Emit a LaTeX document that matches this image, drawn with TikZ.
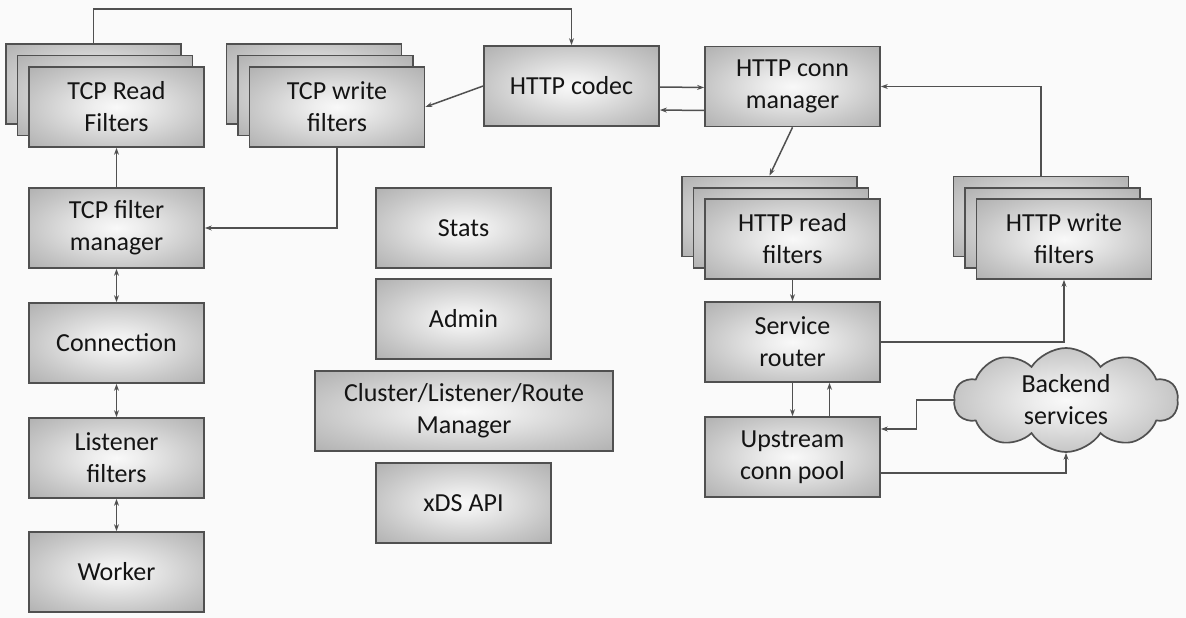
\documentclass[tikz,border=0pt]{standalone}
\usepackage{fontspec}
\setmainfont{Carlito}
\usetikzlibrary{arrows.meta,shapes.symbols}
\pgfdeclareradialshading{boxshade}{\pgfpoint{0bp}{0bp}}{color(0bp)=(gray!5); color(7bp)=(gray!14); color(25bp)=(gray!45); color(36bp)=(gray!62); color(50bp)=(gray!62)}
\definecolor{edgec}{HTML}{505050}
\definecolor{bgc}{HTML}{FAFAFA}
\definecolor{txtc}{HTML}{141414}
\tikzset{
  box/.style={draw=edgec, line width=1.7pt, shading=boxshade, minimum width=175pt, minimum height=80pt,
    inner sep=0pt, align=center, text=txtc, font=\fontsize{26pt}{32pt}\selectfont},
  card/.style={box},
  arr/.style={draw=edgec, line width=1.5pt, -{Stealth[length=7pt,width=5pt]}},
  darr/.style={draw=edgec, line width=1.5pt, {Stealth[length=7pt,width=5pt]}-{Stealth[length=7pt,width=5pt]}},
}
\begin{document}
\begin{tikzpicture}[x=1pt,y=-1pt]
\fill[bgc] (0,0) rectangle (1186,618);
\useasboundingbox (0,0) rectangle (1186,618);
% stacked cards
\node[card] (tcpr3) at (93.5,84) {};
\node[card] (tcpr2) at (105,95.5) {};
\node[box] (tcpr) at (116.5,107) {TCP Read\\Filters};
\node[card] (tcpw3) at (314,84) {};
\node[card] (tcpw2) at (325.5,95.5) {};
\node[box] (tcpw) at (337,107) {TCP write\\filters};
\node[box] (codec) at (571.5,86) {HTTP codec};
\node[box] (connmgr) at (792.5,86.5) {HTTP conn\\manager};
\node[box] (tcpfm) at (116.5,228) {TCP filter\\manager};
\node[box] (conn) at (116.5,343) {Connection};
\node[box] (lis) at (116.5,458) {Listener\\filters};
\node[box] (worker) at (116.5,572) {Worker};
\node[box] (stats) at (463.5,228) {Stats};
\node[box] (admin) at (463.5,319) {Admin};
\node[box, minimum width=298pt] (cluster) at (464,411) {Cluster/Listener/Route\\Manager};
\node[box] (xds) at (463.5,503) {xDS API};
\node[card] (httpr3) at (769.5,216.5) {};
\node[card] (httpr2) at (781,228) {};
\node[box] (httpr) at (792.5,239) {HTTP read\\filters};
\node[box] (router) at (792.5,342) {Service\\router};
\node[box] (upstream) at (792.5,457) {Upstream\\conn pool};
\node[card] (httpw3) at (1041,216.5) {};
\node[card] (httpw2) at (1052.5,228) {};
\node[box] (httpw) at (1064,239) {HTTP write\\filters};
\node[box, cloud, cloud puffs=10, cloud puff arc=115, aspect=2.2, minimum width=224pt, minimum height=104pt] (cloud) at (1066,400) {Backend\\services};
% connectors
\coordinate (topy) at (0,9);
\draw[arr] (tcpr3.north) -- (tcpr3.north |- topy) -| (codec.north);
\draw[arr] (codec.west) -- (tcpw.east);
\draw[arr] ([yshift=-1pt]codec.east) -- ([yshift=-1pt]connmgr.west);
\draw[arr] ([yshift=-24pt]connmgr.west) -- ([yshift=-24pt]codec.east);
\draw[arr] (connmgr.south) -- (httpr3.north);
\draw[arr] (httpw3.north) |- (connmgr.east);
\draw[arr] (tcpfm.north) -- (tcpr.south);
\draw[arr] (tcpw.south) |- (tcpfm.east);
\draw[darr] (tcpfm.south) -- (conn.north);
\draw[darr] (conn.south) -- (lis.north);
\draw[darr] (lis.south) -- (worker.north);
\draw[arr] (httpr.south) -- (router.north);
\draw[arr] (router.east) -| (httpw.south);
\draw[arr] (router.south) -- (upstream.north);
\draw[arr] ([xshift=37pt]upstream.north) -- ([xshift=37pt]router.south);
\draw[arr] (cloud.west) -- ++(-37,0) |- ([yshift=28pt]upstream.east);
\draw[arr] ([yshift=-16pt]upstream.east) -| (cloud.south);
\end{tikzpicture}
\end{document}
